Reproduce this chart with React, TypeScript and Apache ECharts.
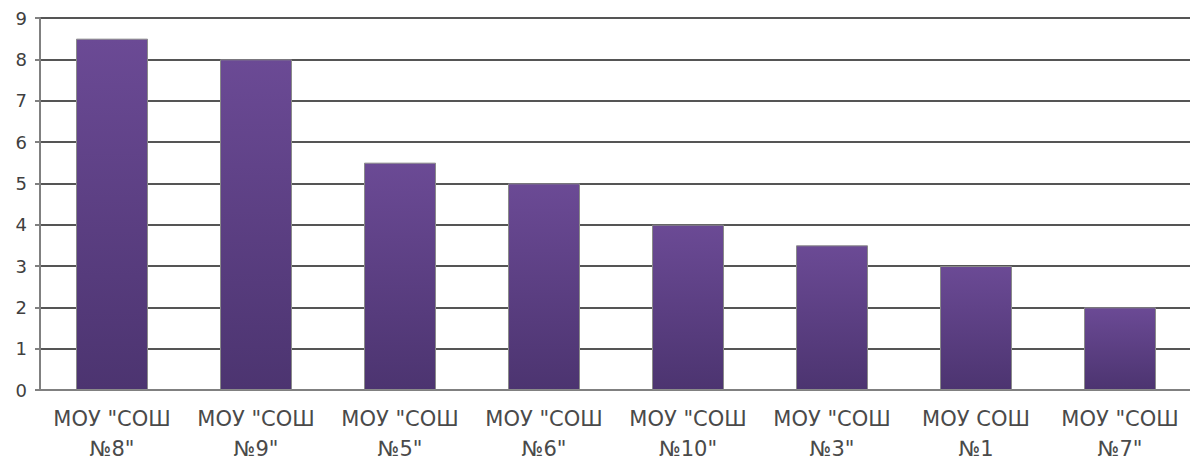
import React, { useEffect, useRef } from "react";
import * as echarts from "echarts";

const categories = [
  'МОУ "СОШ\n№8"',
  'МОУ "СОШ\n№9"',
  'МОУ "СОШ\n№5"',
  'МОУ "СОШ\n№6"',
  'МОУ "СОШ\n№10"',
  'МОУ "СОШ\n№3"',
  "МОУ СОШ\n№1",
  'МОУ "СОШ\n№7"',
];
const values = [8.5, 8, 5.5, 5, 4, 3.5, 3, 2];
const yTicks = [0, 1, 2, 3, 4, 5, 6, 7, 8, 9];

export default function App() {
  const ref = useRef<HTMLDivElement>(null);
  useEffect(() => {
    document.body.style.margin = "0";
    const chart = echarts.init(ref.current!, null, { renderer: "svg" });
    chart.setOption({
      animation: false,
      backgroundColor: "#ffffff",
      grid: {
        left: 40,
        right: -2,
        top: 18,
        bottom: 75,
        containLabel: false,
        outerBoundsMode: "none",
      },
      xAxis: {
        type: "category",
        data: categories,
        axisLine: { show: true, lineStyle: { color: "#808080", width: 2 } },
        axisTick: { show: false },
        axisLabel: {
          color: "#4a4a4a",
          fontFamily: "DejaVu Sans",
          fontSize: 21,
          lineHeight: 30,
          margin: 14,
          interval: 0,
        },
      },
      yAxis: {
        type: "value",
        min: yTicks[0],
        max: yTicks[yTicks.length - 1],
        interval: 1,
        axisLine: { show: true, lineStyle: { color: "#808080", width: 2 } },
        axisTick: { show: true, length: 5, lineStyle: { color: "#808080", width: 2 } },
        axisLabel: {
          color: "#404040",
          fontFamily: "DejaVu Sans",
          fontSize: 18,
          margin: 13,
        },
        splitLine: { show: true, lineStyle: { color: "#555555", width: 2 } },
      },
      series: [
        {
          type: "bar",
          data: values,
          barWidth: "50%",
          itemStyle: {
            color: new echarts.graphic.LinearGradient(0, 0, 0, 1, [
              { offset: 0, color: "#6b4a95" },
              { offset: 1, color: "#4c3470" },
            ]),
            borderColor: "#8a8a8a",
            borderWidth: 1,
          },
        },
      ],
    });
    return () => chart.dispose();
  }, []);
  return <div ref={ref} style={{ width: 1190, height: 465 }} />;
}
